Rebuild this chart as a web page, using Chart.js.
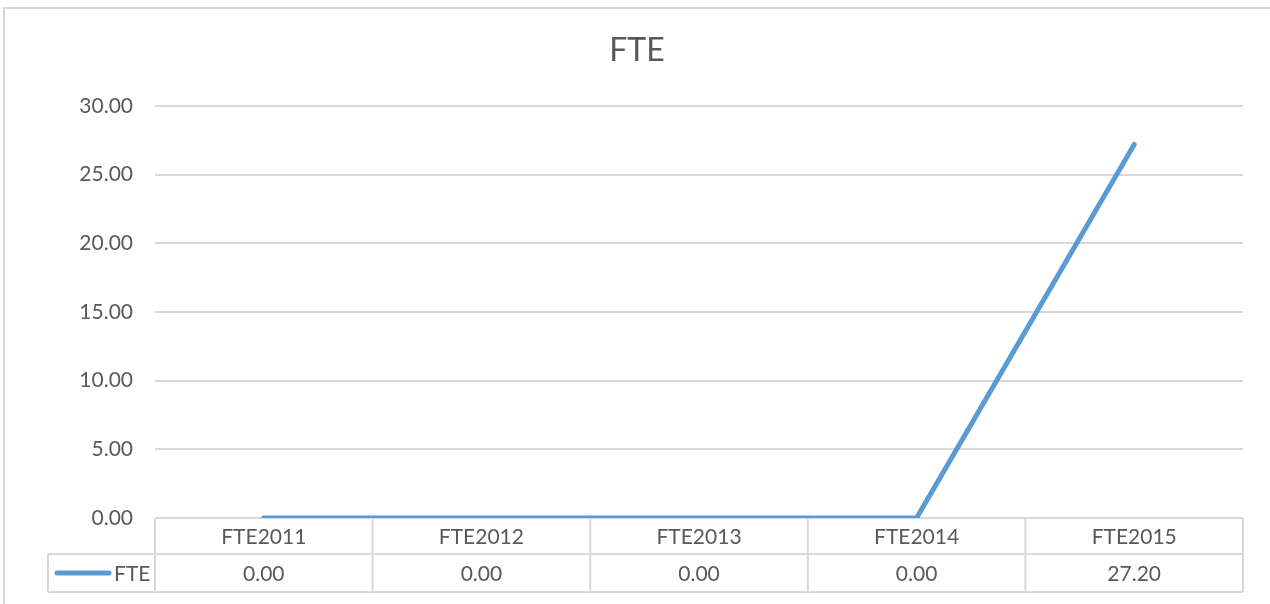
<!DOCTYPE html>
<html>
<head>
<meta charset="utf-8">
<script src="https://cdn.jsdelivr.net/npm/chart.js@4"></script>
<style>
    html, body { margin: 0; padding: 0; background: #fff; }
    #wrap { position: relative; width: 1270px; height: 604px; overflow: hidden; }
    #frame {
        position: absolute; left: 3px; top: 7px; width: 1300px; height: 640px;
        border: 2px solid #D9D9D9; box-sizing: border-box;
    }
    #chart { position: absolute; left: 0; top: 0; }
</style>
</head>
<body>
<div id="wrap">
    <div id="frame"></div>
    <canvas id="chart" width="1270" height="604"></canvas>
</div>
<script>
// Data
const categories = ['FTE2011', 'FTE2012', 'FTE2013', 'FTE2014', 'FTE2015'];
const fteValues = [0, 0, 0, 0, 27.2];
const seriesName = 'FTE';
const chartTitle = 'FTE';

const FONT = 'Lato, "Open Sans", sans-serif';
const TEXT = '#595959';
const GRID = '#D9D9D9';
const LINE = '#5B9BD5';

// Title + data table drawn under the plot, aligned to the x scale
const tablePlugin = {
    id: 'dataTable',
    afterDraw(chart) {
        const ctx = chart.ctx;
        const area = chart.chartArea;
        const x = chart.scales.x;
        const rowH1 = 36, rowH2 = 38;
        const top = area.bottom;
        const mid = top + rowH1;
        const bot = mid + rowH2;
        const legendLeft = 48;
        const step = x.getPixelForValue(1) - x.getPixelForValue(0);
        const edges = categories.map((c, i) => x.getPixelForValue(i) - step / 2);
        edges.push(x.getPixelForValue(categories.length - 1) + step / 2);

        ctx.save();
        ctx.strokeStyle = GRID;
        ctx.lineWidth = 2;
        ctx.beginPath();
        // horizontal lines
        ctx.moveTo(legendLeft, mid); ctx.lineTo(area.right, mid);
        ctx.moveTo(legendLeft, bot); ctx.lineTo(area.right, bot);
        // vertical lines
        edges.forEach(e => { ctx.moveTo(e, top); ctx.lineTo(e, bot); });
        ctx.moveTo(legendLeft, mid); ctx.lineTo(legendLeft, bot);
        ctx.stroke();

        // text
        ctx.fillStyle = TEXT;
        ctx.font = '21px ' + FONT;
        ctx.textAlign = 'center';
        ctx.textBaseline = 'middle';
        categories.forEach((c, i) => {
            const cx = x.getPixelForValue(i);
            ctx.fillText(c, cx, top + rowH1 / 2 + 1);
            ctx.fillText(fteValues[i].toFixed(2), cx, mid + rowH2 / 2 + 1);
        });

        // legend key
        ctx.strokeStyle = LINE;
        ctx.lineWidth = 5;
        ctx.lineCap = 'round';
        ctx.beginPath();
        ctx.moveTo(57, mid + rowH2 / 2);
        ctx.lineTo(109, mid + rowH2 / 2);
        ctx.stroke();
        ctx.textAlign = 'left';
        ctx.fillText(seriesName, 114, mid + rowH2 / 2 + 1);

        // title
        ctx.font = '32px ' + FONT;
        ctx.textAlign = 'center';
        ctx.fillText(chartTitle, 637, 51);
        ctx.restore();
    }
};

new Chart(document.getElementById('chart'), {
    type: 'line',
    data: {
        labels: categories,
        datasets: [{
            label: seriesName,
            data: fteValues,
            borderColor: LINE,
            borderWidth: 5,
            borderCapStyle: 'round',
            borderJoinStyle: 'round',
            pointRadius: 0,
            tension: 0,
            fill: false
        }]
    },
    options: {
        responsive: false,
        animation: false,
        layout: { padding: { top: 106, bottom: 86, right: 27, left: 0 } },
        scales: {
            x: {
                type: 'category',
                offset: true,
                display: false
            },
            y: {
                min: 0,
                max: 30,
                ticks: {
                    stepSize: 5,
                    color: TEXT,
                    padding: 22,
                    font: { family: FONT, size: 21 },
                    callback: v => Number(v).toFixed(2)
                },
                grid: { color: GRID, lineWidth: 2, drawTicks: false },
                border: { display: false },
                afterFit(scale) { scale.width = 155; }
            }
        },
        plugins: {
            legend: { display: false },
            title: { display: false },
            tooltip: { enabled: false }
        }
    },
    plugins: [tablePlugin]
});
</script>
</body>
</html>
